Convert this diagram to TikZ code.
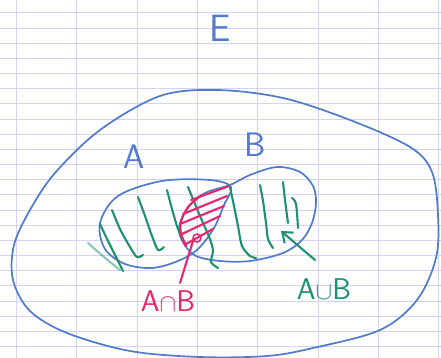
\documentclass[tikz,border=0pt]{standalone}
\usetikzlibrary{arrows.meta}
\definecolor{gridc}{RGB}{212,212,240}
\definecolor{inkblue}{RGB}{80,122,205}
\definecolor{inkgreen}{RGB}{30,145,115}
\definecolor{inkred}{RGB}{232,38,105}
\tikzset{
  gridline/.style={gridc, line width=0.7pt},
  bluepen/.style={inkblue, line width=1.7pt, line cap=round, line join=round},
  greenpen/.style={inkgreen, line width=2.1pt, line cap=round, line join=round},
  redpen/.style={inkred, line width=2.1pt, line cap=round, line join=round},
  handlabel/.style={inner sep=0pt, font=\sffamily},
}
\begin{document}
\begin{tikzpicture}[x=1pt,y=-1pt]
\useasboundingbox (0,0) rectangle (441,358);
\fill[white] (0,0) rectangle (441,358);
% graph paper
\foreach \k in {0,...,7} \draw[gridline] ({16.5+60.3*\k},0) -- ({16.5+60.3*\k},358);
\foreach \k in {0,...,22} \draw[gridline] (0,{12.7+15.17*\k}) -- (441,{12.7+15.17*\k});
% universe E
\draw[bluepen] plot[smooth cycle, tension=0.55] coordinates {
 (217,90) (283,98) (350,120) (410,147) (432,172) (438,215) (436,258)
 (417,300) (380,330) (313,348) (267,356) (200,357) (130,351) (67,333)
 (30,311) (13,280) (14,245) (30,210) (55,173) (100,130) (160,96)};
\node[handlabel, text=inkblue, font=\sffamily\fontsize{38}{40}\selectfont] (E) at (220,28) {E};
% set A
\draw[bluepen] plot[smooth cycle, tension=0.55] coordinates {
 (100,223) (118,196) (162,181) (210,180) (231,187) (224,205) (214,228)
 (198,249) (178,261) (152,268) (125,264) (105,249)};
% set B
\draw[bluepen] plot[smooth cycle, tension=0.55] coordinates {
 (230,185) (250,175) (277,167) (300,172) (313,186) (316,203) (312,223)
 (302,240) (283,253) (250,261) (220,261) (196,256) (184,244) (179,228)
 (188,207) (205,193)};
\node[handlabel, text=inkblue, font=\sffamily\fontsize{34}{36}\selectfont] (A) at (134,157) {A};
\node[handlabel, text=inkblue, font=\sffamily\fontsize{34}{36}\selectfont] (B) at (255,145) {B};
% green hatching of the union
\draw[greenpen, opacity=0.5] plot[smooth] coordinates {(88,243) (104,257) (120,270)};
\draw[greenpen] plot[smooth] coordinates {(100,224) (108,241) (117,259) (123,271)};
\draw[greenpen] plot[smooth] coordinates {(112,210) (120,229) (130,247) (137,257) (143,255)};
\draw[greenpen] plot[smooth] coordinates {(138,197) (145,216) (152,236) (158,250) (164,247)};
\draw[greenpen] plot[smooth] coordinates {(167,190) (172,209) (178,229) (185,243)};
\draw[greenpen] plot[smooth] coordinates {(188,187) (195,204) (203,223) (210,239) (213,251) (211,262) (218,268)};
\draw[greenpen] plot[smooth] coordinates {(230,187) (234,206) (238,226) (242,246) (250,256) (256,258)};
\draw[greenpen] plot[smooth] coordinates {(260,185) (263,201) (266,223) (268,239) (273,248)};
\draw[greenpen] plot[smooth] coordinates {(283,182) (285,200) (288,223)};
\draw[greenpen] plot[smooth] coordinates {(292,198) (296,204) (298,228)};
% red hatching of the intersection
\draw[redpen] plot[smooth] coordinates {(202,195) (189,206) (181,221) (181,234) (186,246)};
\draw[redpen] (191,200) -- (229,186);
\draw[redpen] (183,214) -- (227,196);
\draw[redpen] (180,224) -- (224,206);
\draw[redpen] (182,234) -- (220,216);
\draw[redpen] (186,244) -- (213,229);
% labels and pointers
\node[handlabel, text=inkred, font=\sffamily\fontsize{30}{32}\selectfont] (I) at (168,301) {A$\cap$B};
\node[handlabel, text=inkgreen, font=\sffamily\fontsize{30}{32}\selectfont] (U) at (324,289) {A$\cup$B};
\coordinate (Is) at (180,283);
\coordinate (Ip) at (193,241);
\coordinate (Us) at (315,260);
\coordinate (Up) at (281,231);
\draw[redpen] (Is) -- (Ip);
\draw[redpen, line width=1.6pt] (197,238) circle (4);
\draw[greenpen, -{Straight Barb[length=9pt,width=14pt]}] (Us) -- (Up);
\end{tikzpicture}
\end{document}
